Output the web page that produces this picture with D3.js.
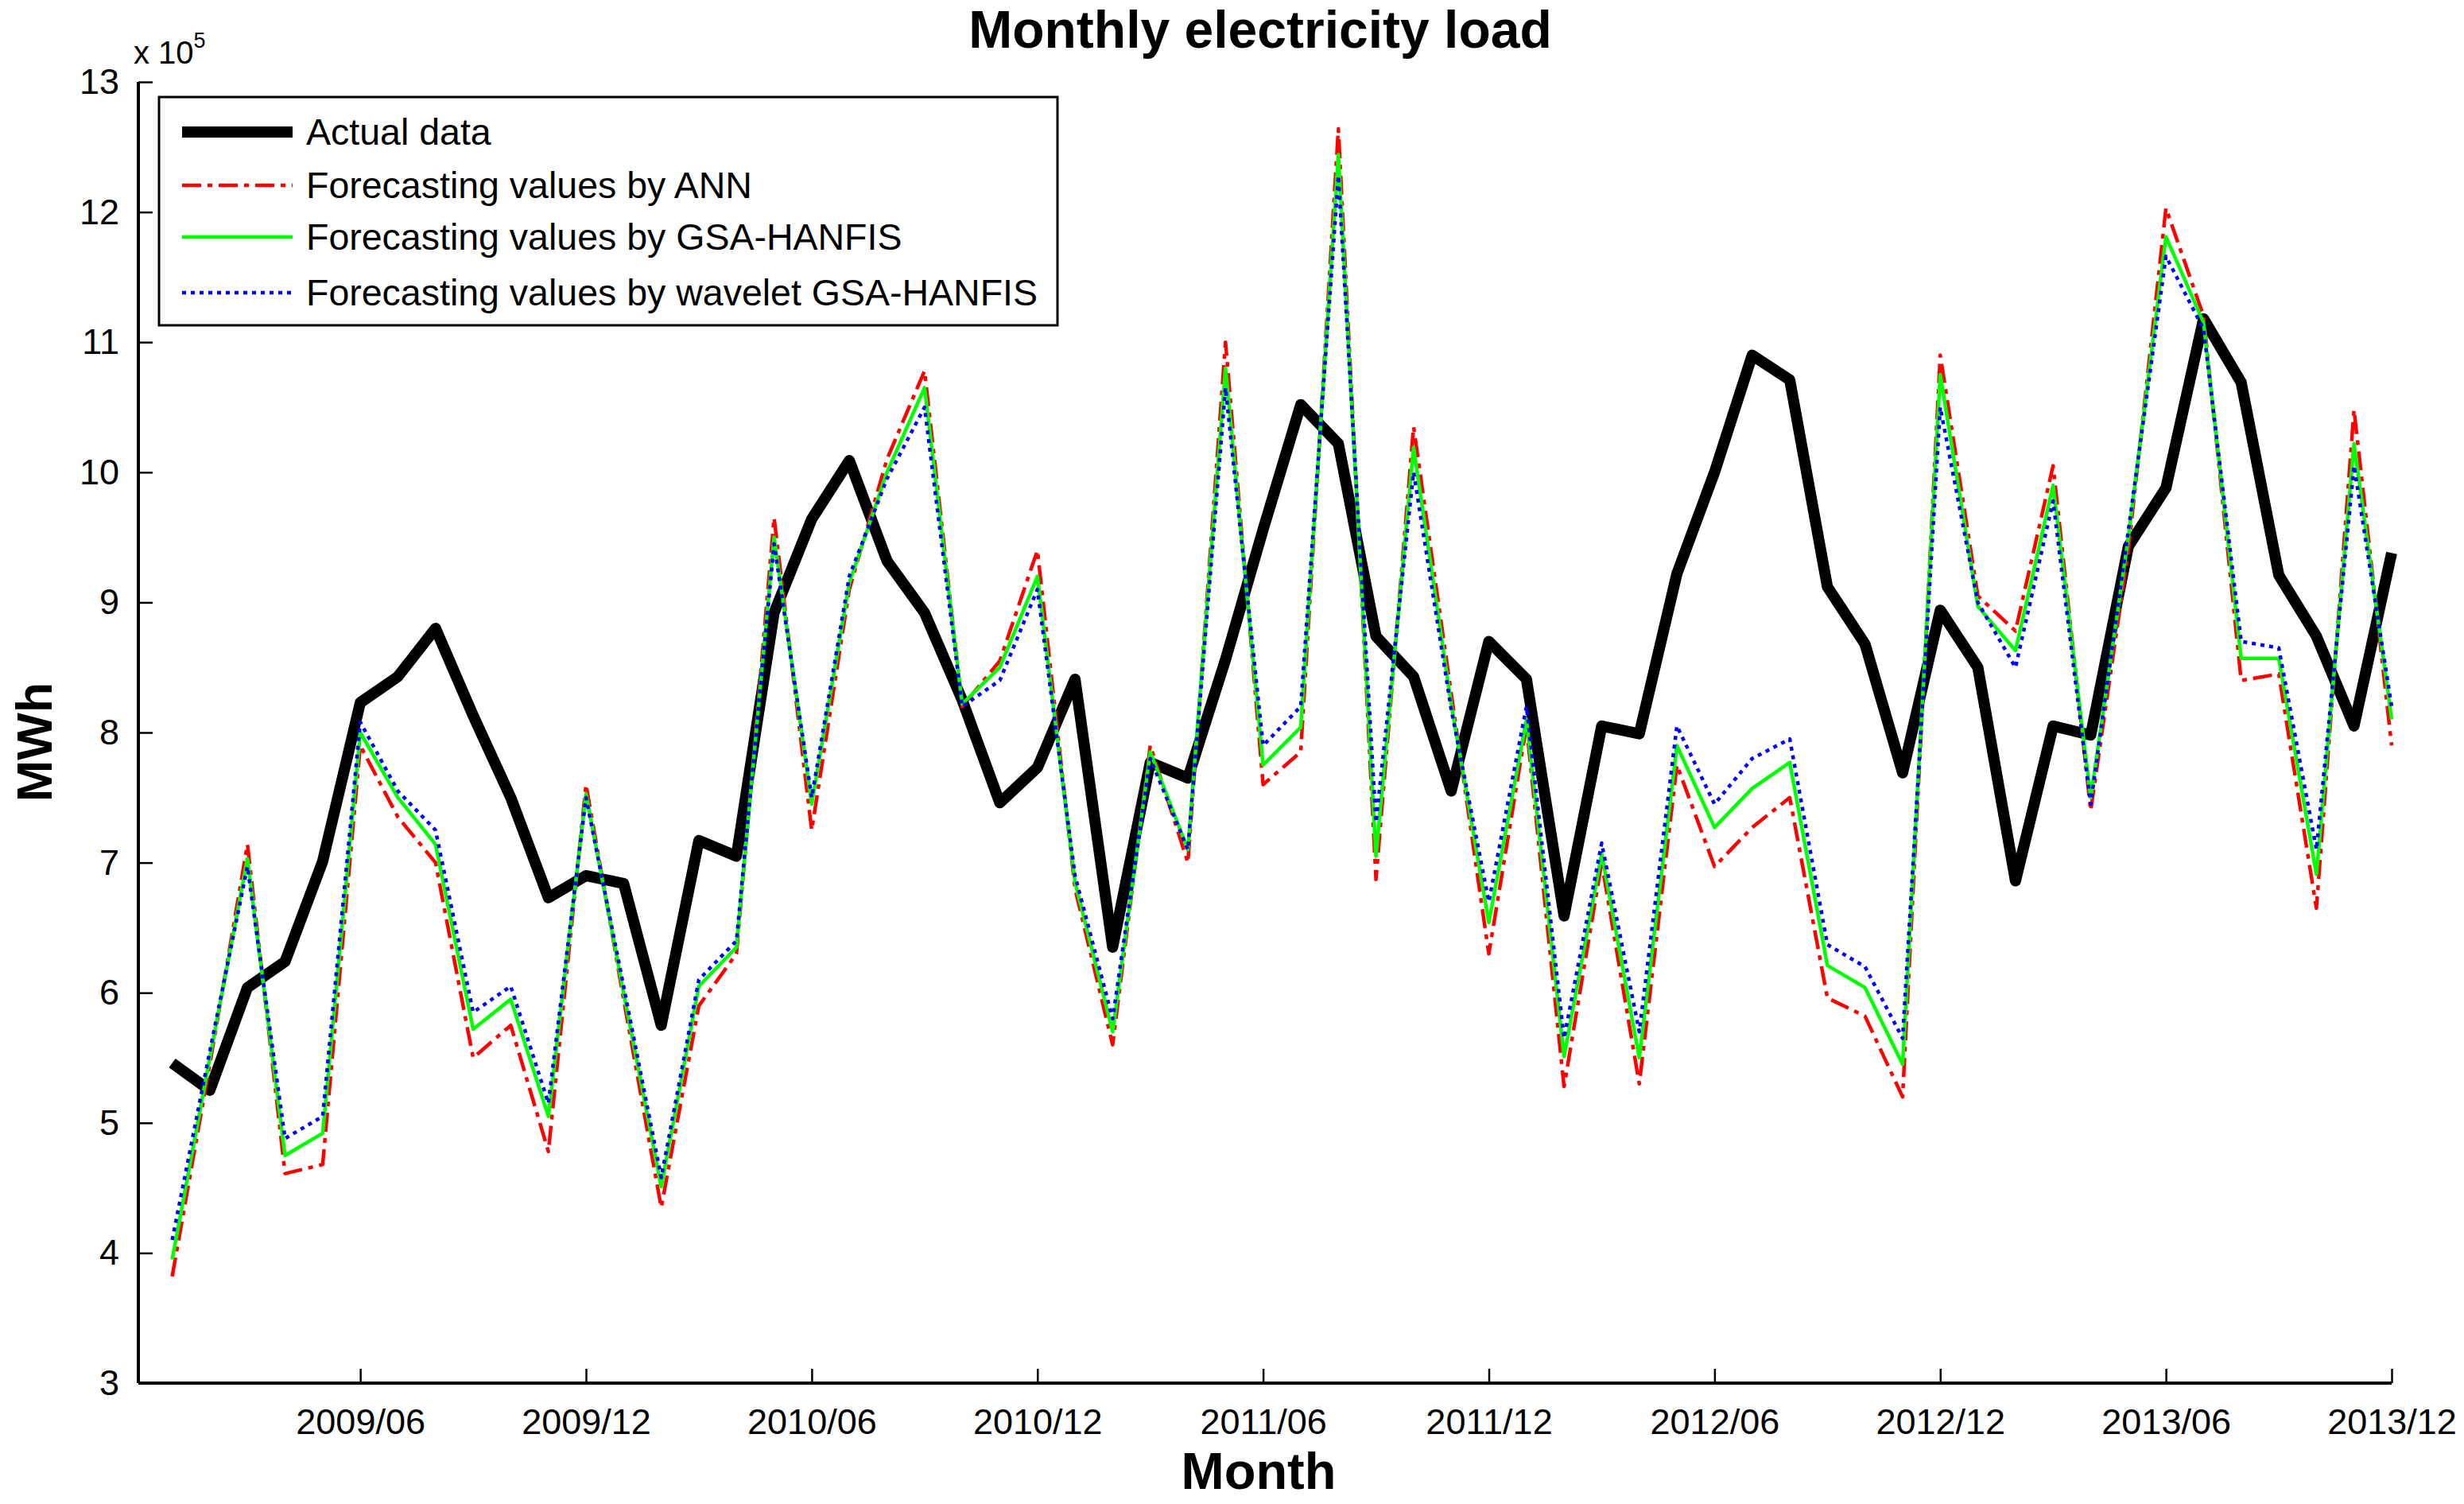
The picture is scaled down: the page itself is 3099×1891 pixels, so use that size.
<!DOCTYPE html>
<html>
<head>
<meta charset="utf-8">
<script src="https://cdn.jsdelivr.net/npm/d3@7"></script>
<style>
  body { margin: 0; background: #fff; }
  svg { font-family: "Liberation Sans", Arial, sans-serif; }
</style>
</head>
<body>
<div id="chart"></div>
<script>
// month index 0 = 2009/01 ... 59 = 2013/12
const tickMonths = [5, 11, 17, 23, 29, 35, 41, 47, 53, 59]
const tickLabels = ['2009/06', '2009/12', '2010/06', '2010/12', '2011/06', '2011/12', '2012/06', '2012/12', '2013/06', '2013/12']
const yTicks = [3, 4, 5, 6, 7, 8, 9, 10, 11, 12, 13]

// values in units of 10^5 MWh
const actual = [5.46, 5.25, 6.04, 6.24, 7.01, 8.23, 8.43, 8.80, 8.13, 7.50,
  6.73, 6.90, 6.84, 5.75, 7.17, 7.05, 8.92, 9.64, 10.09, 9.32,
  8.92, 8.25, 7.46, 7.73, 8.41, 6.35, 7.77, 7.65, 8.56, 9.56,
  10.52, 10.22, 8.74, 8.43, 7.55, 8.70, 8.41, 6.59, 8.05, 7.99,
  9.22, 10.00, 10.90, 10.71, 9.12, 8.68, 7.69, 8.94, 8.50, 6.86,
  8.05, 7.98, 9.43, 9.88, 11.18, 10.69, 9.21, 8.74, 8.05, 9.38]
const ann = [3.82, 5.45, 7.14, 4.61, 4.68, 7.90, 7.35, 7.00, 5.50, 5.75,
  4.78, 7.60, 5.95, 4.35, 5.90, 6.30, 9.65, 7.25, 9.10, 10.10,
  10.78, 8.20, 8.55, 9.40, 6.80, 5.60, 7.90, 7.00, 11.00, 7.60,
  7.85, 12.64, 6.87, 10.35, 8.30, 6.30, 8.05, 5.28, 7.00, 5.30,
  7.75, 6.97, 7.27, 7.50, 5.96, 5.82, 5.20, 10.90, 9.05, 8.78,
  10.05, 7.40, 9.40, 12.03, 11.20, 8.40, 8.45, 6.65, 10.48, 7.90]
const gsa = [3.95, 5.50, 7.03, 4.75, 4.92, 8.00, 7.50, 7.14, 5.72, 5.95,
  5.05, 7.53, 6.00, 4.51, 6.05, 6.35, 9.50, 7.45, 9.15, 10.00,
  10.65, 8.22, 8.50, 9.20, 6.85, 5.70, 7.85, 7.10, 10.80, 7.75,
  8.04, 12.44, 7.05, 10.19, 8.22, 6.54, 8.10, 5.51, 7.07, 5.50,
  7.90, 7.27, 7.57, 7.77, 6.21, 6.04, 5.45, 10.75, 8.97, 8.63,
  9.90, 7.50, 9.50, 11.81, 11.15, 8.57, 8.57, 6.91, 10.22, 8.10]
const wavelet = [4.10, 5.55, 6.97, 4.88, 5.05, 8.08, 7.55, 7.25, 5.85, 6.05,
  5.15, 7.50, 6.05, 4.58, 6.10, 6.40, 9.45, 7.50, 9.20, 9.95,
  10.50, 8.20, 8.40, 9.10, 6.90, 5.80, 7.80, 7.10, 10.65, 7.90,
  8.20, 12.28, 7.31, 10.00, 8.18, 6.70, 8.20, 5.65, 7.15, 5.70,
  8.05, 7.45, 7.80, 7.95, 6.37, 6.20, 5.65, 10.50, 9.00, 8.50,
  9.78, 7.45, 9.55, 11.66, 11.10, 8.70, 8.65, 7.10, 10.05, 8.20]

const seriesNames = ['Actual data', 'Forecasting values by ANN', 'Forecasting values by GSA-HANFIS', 'Forecasting values by wavelet GSA-HANFIS']

const W = 3099
const H = 1891
const mLeft = 174
const mRight = 3008
const mTop = 103
const mBottom = 1739

const svg = d3.select('#chart').append('svg')
  .attr('width', W)
  .attr('height', H)

const x = d3.scaleLinear().domain([-0.9, 59]).range([mLeft, mRight])
const y = d3.scaleLinear().domain([3, 13]).range([mBottom, mTop])

// axes (left and bottom only, ticks inward)
const xAxis = d3.axisBottom(x)
  .tickValues(tickMonths)
  .tickFormat((d, i) => tickLabels[i])
  .tickSizeInner(-18)
  .tickSizeOuter(0)
  .tickPadding(32)
const yAxis = d3.axisLeft(y)
  .tickValues(yTicks)
  .tickFormat(d3.format('d'))
  .tickSizeInner(-18)
  .tickSizeOuter(0)
  .tickPadding(24)

const gx = svg.append('g').attr('transform', `translate(0,${mBottom})`).call(xAxis)
const gy = svg.append('g').attr('transform', `translate(${mLeft},0)`).call(yAxis)

gx.select('.domain').attr('stroke', '#000').attr('stroke-width', 4).attr('d', `M${mLeft},0H${mRight}`)
gy.select('.domain').attr('stroke', '#000').attr('stroke-width', 4).attr('d', `M0,${mBottom}V${mTop}`)
svg.selectAll('.tick line').attr('stroke', '#000').attr('stroke-width', 2.5)
svg.selectAll('.tick text').attr('fill', '#000').style('font-size', '45px')
  .style('font-family', '"Liberation Sans", Arial, sans-serif')

// exponent label
const expo = svg.append('text').attr('x', 168).attr('y', 80).style('font-size', '40px')
expo.append('tspan').text('x 10')
expo.append('tspan').attr('dy', -20).style('font-size', '27px').text('5')

// titles
svg.append('text')
  .attr('x', (mLeft + mRight) / 2 - 6).attr('y', 60)
  .attr('text-anchor', 'middle')
  .style('font-size', '66px').style('font-weight', 'bold')
  .text('Monthly electricity load')

svg.append('text')
  .attr('x', (mLeft + mRight) / 2 - 8).attr('y', 1872)
  .attr('text-anchor', 'middle')
  .style('font-size', '65px').style('font-weight', 'bold')
  .text('Month')

svg.append('text')
  .attr('transform', `translate(65,${(mTop + mBottom) / 2 + 12}) rotate(-90)`)
  .attr('text-anchor', 'middle')
  .style('font-size', '63px').style('font-weight', 'bold')
  .text('MWh')

// lines
const line = d3.line().x((d, i) => x(i)).y(d => y(d))

const styles = [
  { data: actual, color: '#000000', width: 14, dash: null },
  { data: ann, color: '#ff0000', width: 4.5, dash: '24,8,6,8' },
  { data: gsa, color: '#00ff00', width: 4.5, dash: null },
  { data: wavelet, color: '#0000ff', width: 4.5, dash: '5,6' }
]

const plot = svg.append('g')
plot.selectAll('path.series')
  .data(styles)
  .enter()
  .append('path')
  .attr('class', 'series')
  .attr('d', d => line(d.data))
  .attr('fill', 'none')
  .attr('stroke', d => d.color)
  .attr('stroke-width', d => d.width)
  .attr('stroke-dasharray', d => d.dash)
  .attr('stroke-linejoin', 'round')

// legend
const legend = svg.append('g')
legend.append('rect')
  .attr('x', 200).attr('y', 122)
  .attr('width', 1130).attr('height', 287)
  .attr('fill', '#fff').attr('stroke', '#000').attr('stroke-width', 3)

const rowY = [166, 233, 298, 368]
styles.forEach((s, i) => {
  legend.append('line')
    .attr('x1', 229).attr('x2', 368)
    .attr('y1', rowY[i]).attr('y2', rowY[i])
    .attr('stroke', s.color)
    .attr('stroke-width', s.width)
    .attr('stroke-dasharray', s.dash)
  legend.append('text')
    .attr('x', 385).attr('y', rowY[i] + 16)
    .style('font-size', '46.5px')
    .text(seriesNames[i])
})
</script>
</body>
</html>
